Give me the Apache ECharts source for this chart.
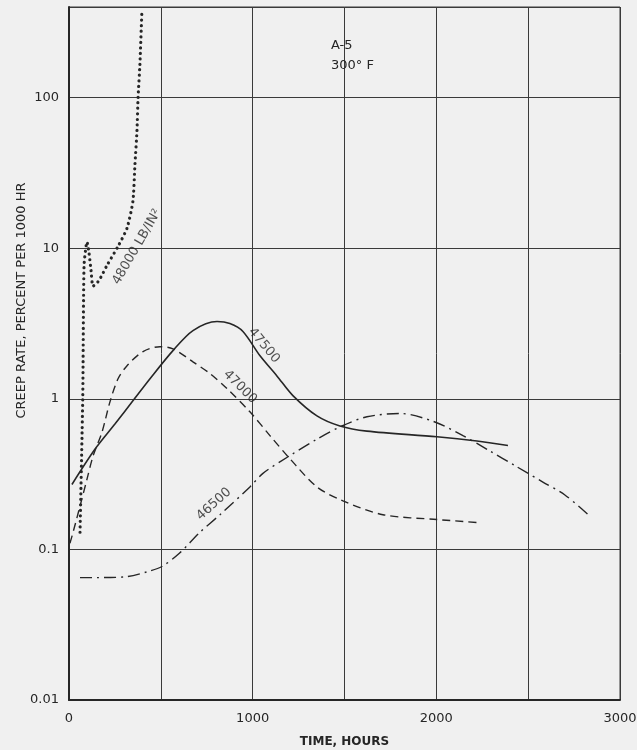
<!DOCTYPE html>
<html><head><meta charset="utf-8">
<script src="https://cdn.jsdelivr.net/npm/echarts@6/dist/echarts.min.js"></script>
<style>html,body{margin:0;padding:0;background:#f0f0f0;}#c{width:637px;height:750px;}</style>
</head><body><div id="c"></div>
<script>
// Data (time in hours, creep rate in percent per 1000 hr)
const s48000_t = [60, 75, 82, 98, 109, 120, 131, 163, 207, 267, 316, 348, 359, 370, 376, 386, 397];
const s48000_v = [0.13, 1.05, 7.7, 11, 9.3, 7.1, 5.6, 6.1, 7.7, 10.3, 13.6, 20.5, 35.9, 60, 100, 166, 380];
const s47500_t = [16, 142, 250, 348, 441, 566, 675, 806, 876, 947, 1040, 1132, 1219, 1350, 1475, 1622, 2003, 2221, 2390];
const s47500_v = [0.27, 0.464, 0.68, 0.97, 1.36, 2.09, 2.84, 3.26, 3.16, 2.80, 1.93, 1.42, 1.05, 0.77, 0.66, 0.61, 0.56, 0.525, 0.49];
const s47000_t = [5, 16, 60, 98, 131, 180, 223, 267, 316, 403, 495, 566, 675, 768, 860, 985, 1094, 1203, 1350, 1492, 1709, 2003, 2221];
const s47000_v = [0.11, 0.122, 0.194, 0.293, 0.417, 0.603, 0.955, 1.36, 1.66, 2.06, 2.22, 2.15, 1.76, 1.47, 1.17, 0.82, 0.57, 0.40, 0.26, 0.21, 0.17, 0.158, 0.151];
const s46500_t = [60, 152, 316, 425, 506, 604, 713, 822, 985, 1056, 1203, 1350, 1486, 1622, 1802, 1981, 2145, 2292, 2428, 2580, 2700, 2836];
const s46500_v = [0.065, 0.065, 0.066, 0.071, 0.077, 0.095, 0.13, 0.17, 0.26, 0.32, 0.42, 0.54, 0.66, 0.76, 0.80, 0.71, 0.57, 0.45, 0.36, 0.28, 0.23, 0.166];
const xTicks = [0, 1000, 2000, 3000];
const yTicks = [0.01, 0.1, 1, 10, 100];
const curveLabels = ['48000 LB/IN\u00B2', '47500', '47000', '46500'];
const curveLabel_t = [370, 1061, 931, 789];
const curveLabel_v = [10.2, 2.26, 1.2, 0.2];
const curveLabel_rot = [60, -50, -45, 42];
const noteLines = ['A-5', '300\u00B0 F'];

const ink = '#262626';
const font = 'DejaVu Sans';
const pairs = (t, v) => t.map((x, i) => [x, v[i]]);

const chart = echarts.init(document.getElementById('c'), null, {renderer: 'canvas'});
const lineSeries = (data, type, width, cap, smooth) => ({
  type: 'line', data, showSymbol: false, smooth: smooth, silent: true,
  lineStyle: {color: ink, width: width, type: type, cap: cap}
});
chart.setOption({
  backgroundColor: '#f0f0f0',
  animation: false,
  title: {
    text: noteLines.join('\n'), left: 326, top: 31,
    textStyle: {fontFamily: font, fontSize: 13, fontWeight: 'normal', color: ink, lineHeight: 20}
  },
  grid: {left: 69, right: 17, top: 7, bottom: 50, show: true, borderColor: '#3a3a3a', borderWidth: 1,
    containLabel: false, outerBoundsMode: 'none'},
  xAxis: {
    type: 'value', min: 0, max: 3000, interval: 500,
    name: 'TIME, HOURS', nameLocation: 'middle', nameGap: 36,
    nameTextStyle: {fontFamily: font, fontSize: 12, color: ink, fontWeight: 'bold'},
    axisLine: {show: true, onZero: false, lineStyle: {color: ink, width: 2}},
    axisTick: {show: false},
    axisLabel: {fontFamily: font, fontSize: 13, color: ink, margin: 12,
      formatter: v => xTicks.includes(v) ? String(v) : ''},
    splitLine: {show: true, lineStyle: {color: '#3a3a3a', width: 1}}
  },
  yAxis: {
    type: 'log', logBase: 10, min: 0.01, max: 400,
    name: 'CREEP RATE, PERCENT PER 1000 HR', nameLocation: 'middle', nameGap: 41,
    nameMoveOverlap: false,
    nameTextStyle: {fontFamily: font, fontSize: 13, color: ink, padding: [0, 0, 0, 106]},
    axisLine: {show: true, onZero: false, lineStyle: {color: ink, width: 2}},
    axisTick: {show: false},
    axisLabel: {fontFamily: font, fontSize: 13, color: ink, margin: 10,
      formatter: v => {
        const m = yTicks.find(y => Math.abs(y - v) / y < 1e-6);
        return m === undefined ? '' : String(m);
      }},
    splitLine: {show: true, lineStyle: {color: '#3a3a3a', width: 1}}
  },
  series: [
    lineSeries(pairs(s48000_t, s48000_v), [0.01, 5.5], 3.2, 'round', 0.2),
    lineSeries(pairs(s47500_t, s47500_v), 'solid', 1.6, 'butt', 0.3),
    lineSeries(pairs(s47000_t, s47000_v), [8, 5], 1.4, 'butt', 0.3),
    lineSeries(pairs(s46500_t, s46500_v), [12, 5, 2, 5], 1.4, 'butt', 0.3),
    {
      type: 'scatter', symbolSize: 0, silent: true,
      data: curveLabels.map((n, i) => ({
        value: [curveLabel_t[i], curveLabel_v[i]], name: n,
        label: {show: true, position: 'inside', formatter: n, rotate: curveLabel_rot[i],
          fontFamily: font, fontSize: 13, color: ink}
      }))
    }
  ]
});
</script></body></html>
